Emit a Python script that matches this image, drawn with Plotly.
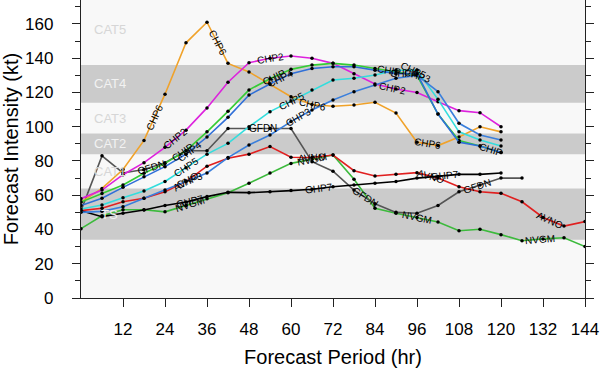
import math
import plotly.graph_objects as go

# ---------------- data ----------------
hours = [0, 6, 12, 18, 24, 30, 36, 42, 48, 54, 60, 66, 72, 78, 84, 90, 96, 102, 108, 114, 120, 126, 132, 138, 144]

chp6 = [56, 64, 75, 92, 119, 149, 161, 137, 132, 125, 117.5, 113, 112, 112.7, 114.3, 108, 91, 89, 94, 100, 97]
chp2 = [58, 63, 72, 79, 88, 98, 111, 126, 137.4, 140, 141.3, 140, 137, 131, 125, 122, 120, 114.6, 109.4, 108.2, 100]
chip = [56, 61, 66, 72.8, 78.6, 86, 97, 109, 121.5, 128, 133.5, 136, 137, 136, 134, 132, 130, 107.4, 92, 88.8, 85]
chp4 = [54, 58.2, 64.6, 70.8, 76.7, 84, 94, 105.5, 118.5, 125, 131, 134, 135, 135, 133, 131, 131, 107.4, 91, 88.8, 85]
chp5 = [52, 54.3, 58.6, 62.5, 68, 76, 84, 90.3, 100, 108.8, 115, 121.5, 127.3, 128.3, 130.2, 133, 133, 116, 97, 92.3, 88.8]
chp3 = [50, 50.6, 53.3, 58.2, 63, 68, 73, 82, 89.3, 95.2, 103, 109.8, 115.6, 120.5, 124.4, 128.3, 130, 120.5, 102, 95.2, 92.3]
gfdn = [51, 83, 73, 75, 79, 86, 86, 99, 99, 99, 99, 79.6, 74, 63, 55, 50, 49.5, 54, 62, 66, 70, 70]
avno = [51, 52.4, 56.2, 58.2, 62, 68, 77, 81.6, 84, 88.4, 82.2, 82, 83.5, 74.3, 71.2, 72.2, 73.2, 70, 65, 62, 61.1, 56.2, 47, 42, 44.6]
nvgm = [40.5, 48, 51.5, 51.5, 50.3, 54, 58, 61.5, 67, 73, 78.6, 81, 83.5, 69.3, 52.4, 49.5, 47, 44.4, 39.3, 40.1, 37, 33.4, 34.5, 35.2, 30]
ghp7 = [51, 47.5, 49.5, 51.4, 54, 56, 59.2, 61.7, 61.5, 62, 62.7, 63.5, 65, 66, 67, 68, 70, 71, 72.2, 72.2, 73]

x_ticks = [12, 24, 36, 48, 60, 72, 84, 96, 108, 120, 132, 144]
y_ticks = [0, 20, 40, 60, 80, 100, 120, 140, 160]

# intensity categories (kt bounds) and labels
cat_names = ["TS", "CAT1", "CAT2", "CAT3", "CAT4", "CAT5"]
cat_low = [34, 64, 84, 96, 114, 136]
cat_high = [64, 84, 96, 114, 136, 178]
cat_shaded = [True, False, True, False, True, False]

# ---------------- styling ----------------
W, H = 600, 369
ML, MR, MT, MB = 81, 15, 0, 71
XR = [0, 144]
YR = [0, 174]
FONT = "Liberation Sans, Arial, Helvetica, sans-serif"

series = [
    ("NVGM", nvgm, "#3cba3c"),
    ("GFDN", gfdn, "#555555"),
    ("AVNO", avno, "#e02020"),
    ("GHP7", ghp7, "#000000"),
    ("CHP6", chp6, "#f0a22a"),
    ("CHP2", chp2, "#dd22dd"),
    ("CHIP", chip, "#33cc33"),
    ("CHP5", chp5, "#33dddd"),
    ("CHP3", chp3, "#3a7fdc"),
    ("CHP4", chp4, "#2f6fd8"),
]

label_hours = {
    "CHP6": [21, 39, 66, 99],
    "CHP2": [27, 54, 89],
    "CHIP": [29, 55, 88, 117],
    "CHP4": [31, 57, 92],
    "CHP5": [30, 60, 95],
    "CHP3": [31, 62, 96],
    "GFDN": [20, 52, 81, 113],
    "AVNO": [30, 66, 100, 134],
    "NVGM": [31, 66, 96, 131],
    "GHP7": [31, 68, 104],
}

px_per_x = (W - ML - MR) / (XR[1] - XR[0])
px_per_y = (H - MT - MB) / (YR[1] - YR[0])

fig = go.Figure()

# category bands
for lo, hi, sh in zip(cat_low, cat_high, cat_shaded):
    if sh:
        fig.add_shape(type="rect", xref="paper", yref="y", x0=0, x1=1, y0=lo, y1=hi,
                      fillcolor="#cbcbcb", line=dict(width=0), layer="below")

annotations = []
for name, lo, hi, sh in zip(cat_names, cat_low, cat_high, cat_shaded):
    yc = (lo + hi) / 2 if name != "CAT5" else 157
    annotations.append(dict(x=8.2, y=yc, xref="x", yref="y", text=name, showarrow=False,
                            font=dict(family=FONT, size=13,
                                      color="#f2f2f2" if sh else "#d6d6d6")))

for name, ys, col in series:
    xs = hours[:len(ys)]
    fig.add_trace(go.Scatter(x=xs, y=ys, mode="lines+markers", name=name,
                             line=dict(color=col, width=1.6),
                             marker=dict(color="black", size=3.5),
                             showlegend=False, hoverinfo="skip"))

def interp(xs, ys, h):
    for i in range(len(xs) - 1):
        if xs[i] <= h <= xs[i + 1]:
            t = (h - xs[i]) / (xs[i + 1] - xs[i])
            return ys[i] + t * (ys[i + 1] - ys[i])
    return ys[-1]

for name, ys, col in series:
    xs = hours[:len(ys)]
    for h in label_hours.get(name, []):
        yv = interp(xs, ys, h)
        ha = max(xs[0], h - 3)
        hb = min(xs[-1], h + 3)
        ya = interp(xs, ys, ha)
        yb = interp(xs, ys, hb)
        dx = (hb - ha) * px_per_x
        dy = (yb - ya) * px_per_y
        ang = -math.degrees(math.atan2(dy, dx))
        annotations.append(dict(x=h, y=yv, xref="x", yref="y", text=name, showarrow=False,
                                textangle=ang, font=dict(family=FONT, size=10, color="black")))

fig.update_layout(
    width=W, height=H,
    margin=dict(l=ML, r=MR, t=MT, b=MB, pad=0),
    paper_bgcolor="white",
    plot_bgcolor="#f8f8f8",
    font=dict(family=FONT, color="black"),
    annotations=annotations,
)

fig.update_xaxes(
    range=XR, tickvals=x_ticks, ticktext=[str(v) for v in x_ticks],
    showgrid=False, zeroline=False, showline=True, linecolor="#222222", linewidth=1.3,
    ticks="outside", ticklen=8, tickwidth=1.2, tickcolor="#222222",
    tickfont=dict(size=17, family=FONT), ticklabelstandoff=7,
    title=dict(text="Forecast Period (hr)", font=dict(size=20, family=FONT), standoff=12),
    mirror=False, automargin=False,
)
fig.update_yaxes(
    range=YR, tickvals=y_ticks, ticktext=[str(v) for v in y_ticks],
    showgrid=False, zeroline=False, showline=True, linecolor="#222222", linewidth=1.3,
    ticks="outside", ticklen=8, tickwidth=1.2, tickcolor="#222222",
    minor=dict(dtick=10, tick0=0, ticks="outside", ticklen=5, tickcolor="#222222", showgrid=False),
    tickfont=dict(size=17, family=FONT), ticklabelstandoff=15,
    title=dict(text="Forecast Intensity (kt)", font=dict(size=20, family=FONT), standoff=6),
    mirror="ticks", automargin=False,
)

fig.write_html("out.html", config={"displayModeBar": False},
               post_script="document.body.style.margin='0';document.body.style.padding='0';")
